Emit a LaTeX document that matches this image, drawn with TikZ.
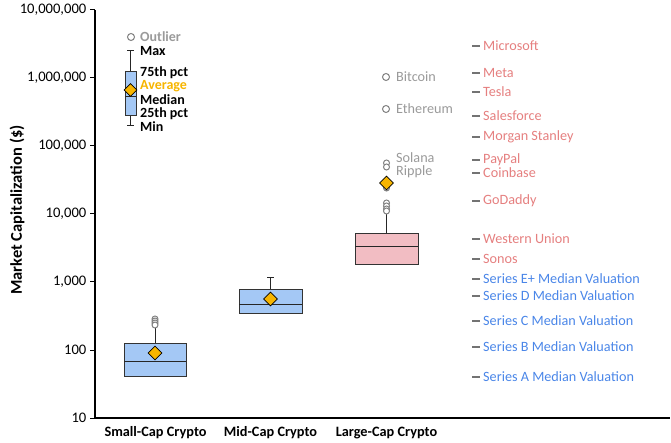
\documentclass[tikz,border=0pt]{standalone}
\usepackage{fontspec}
\setmainfont{Carlito}
\usetikzlibrary{shapes.geometric}

\definecolor{boxblue}{HTML}{A4C8F5}
\definecolor{boxpink}{HTML}{F2BDC3}
\definecolor{avggold}{HTML}{F7B500}
\definecolor{corallab}{HTML}{E57F7F}
\definecolor{bluelab}{HTML}{4A86E8}
\definecolor{greylab}{HTML}{9A9A9A}

\tikzset{
  boxplot/.style={draw=black!80, line width=1pt, inner sep=0pt},
  whisker/.style={draw=black!85, line width=1pt},
  avgmark/.style={diamond, draw=black, line width=0.8pt, fill=avggold, inner sep=0pt, minimum width=14pt, minimum height=14pt},
  outlier/.style={circle, draw=gray, line width=1pt, fill=white, inner sep=0pt, minimum size=7pt},
  reflab/.style={anchor=west, inner sep=1pt, font=\fontsize{14.2}{16}\selectfont},
  refmark/.style={draw=black!55, line width=2pt},
  leglab/.style={anchor=west, inner sep=0pt, font=\bfseries\fontsize{14}{15}\selectfont},
  catlab/.style={font=\bfseries\fontsize{14.3}{16}\selectfont}
}

\begin{document}
\begin{tikzpicture}[x=1pt, y=-1pt]
\useasboundingbox (0,0) rectangle (671,443);

% axes
\coordinate (top) at (95,10);
\coordinate (origin) at (95,418);
\coordinate (right) at (670,418);
\path[draw, line width=1.1pt] (top) -- (origin) -- (right);
\foreach \yy/\lab in {10/{10,000,000}, 78/{1,000,000}, 146/{100,000}, 214/{10,000}, 282/{1,000}, 350/{100}, 418/{10}} {
  \path[draw, line width=1pt] (90,\yy) -- (95,\yy);
  \node[anchor=east, inner sep=0pt, font=\fontsize{14.6}{16}\selectfont] (ylab\yy) at (86.5,\yy) {\lab};
}
\node[rotate=90, font=\bfseries\fontsize{16.5}{18}\selectfont] (ytitle) at (17,210) {Market Capitalization (\$)};

% category labels
\node[catlab] (xsmall) at (155.5,433) {Small-Cap Crypto};
\node[catlab] (xmid) at (270.5,433) {Mid-Cap Crypto};
\node[catlab] (xlarge) at (386.5,433) {Large-Cap Crypto};

% legend box
\node[outlier] (kout) at (131,37) {};
\coordinate (kmax) at (130.5,51);
\coordinate (kmin) at (130.5,126);
\node[boxplot, fill=boxblue, minimum width=11pt, minimum height=44pt] (kbox) at (130.5,94) {};
\path[whisker] (kbox.north) -- (kmax);
\path[whisker] (kbox.south) -- (kmin);
\path[whisker] ([xshift=-3.5pt]kmax) -- ([xshift=3.5pt]kmax);
\path[whisker] ([xshift=-3.5pt]kmin) -- ([xshift=3.5pt]kmin);
\path[whisker] (125,97) -- (136,97);
\node[avgmark, minimum width=13pt, minimum height=13pt] (kavg) at (130.5,90) {};
\node[leglab, text=greylab] (tout) at (140,37) {Outlier};
\node[leglab] (tmax) at (140,51) {Max};
\node[leglab] (t75) at (140,73) {75th pct};
\node[leglab, text=avggold] (tavg) at (140,86) {Average};
\node[leglab] (tmed) at (140,100) {Median};
\node[leglab] (t25) at (140,114) {25th pct};
\node[leglab] (tmin) at (140,127) {Min};

% small-cap
\node[boxplot, fill=boxblue, minimum width=62pt, minimum height=33pt] (sbox) at (155,359.5) {};
\coordinate (smax) at (155,326);
\path[whisker] (sbox.north) -- (smax);
\path[whisker] (124,361) -- (186,361);
\foreach \yy in {319,321,323,325} \node[outlier, minimum size=6pt] (so\yy) at (155,\yy) {};
\node[avgmark] (savg) at (155,353) {};

% mid-cap
\node[boxplot, fill=boxblue, minimum width=63pt, minimum height=24pt] (mbox) at (270.5,301) {};
\coordinate (mmax) at (270.5,278);
\path[whisker] (mbox.north) -- (mmax);
\path[whisker] ([xshift=-3.5pt]mmax) -- ([xshift=3.5pt]mmax);
\path[whisker] (239,304) -- (302,304);
\node[avgmark] (mavg) at (270.5,299) {};

% large-cap
\node[boxplot, fill=boxpink, minimum width=63pt, minimum height=31pt] (lbox) at (386.5,249.5) {};
\coordinate (lmax) at (386.5,213);
\path[whisker] (lbox.north) -- (lmax);
\path[whisker] (355,247) -- (418,247);
\foreach \yy in {203,206,209,211} \node[outlier, minimum size=6pt] (lo\yy) at (386.5,\yy) {};
\node[outlier, minimum size=6pt] (lo188) at (386.5,188) {};
\node[avgmark] (lavg) at (386.5,183) {};
\node[outlier, minimum size=6pt] (lsol) at (386.5,163) {};
\node[outlier, minimum size=6pt] (lrip) at (386.5,167) {};
\node[outlier] (lbtc) at (386,77) {};
\node[outlier] (leth) at (386,109) {};
\node[reflab, text=greylab] (tbtc) at (395,77) {Bitcoin};
\node[reflab, text=greylab] (teth) at (395,109) {Ethereum};
\node[reflab, text=greylab] (tsol) at (395,158) {Solana};
\node[reflab, text=greylab] (trip) at (395,172) {Ripple};

% reference values
\foreach \i/\yy/\name/\col in {1/46/Microsoft/corallab, 2/73/Meta/corallab, 3/92/Tesla/corallab,
  4/116/Salesforce/corallab, 5/137/Morgan Stanley/corallab, 6/160/PayPal/corallab,
  7/173/Coinbase/corallab, 8/201/GoDaddy/corallab, 9/239/Western Union/corallab,
  10/259/Sonos/corallab, 11/279/Series E+ Median Valuation/bluelab,
  12/296/Series D Median Valuation/bluelab, 13/321/Series C Median Valuation/bluelab,
  14/347/Series B Median Valuation/bluelab, 15/377/Series A Median Valuation/bluelab} {
  \node[reflab, text=\col] (ref\i) at (482,\yy) {\name};
  \path[refmark] ([xshift=-10pt]ref\i.west) -- ([xshift=-2pt]ref\i.west);
}
\end{tikzpicture}
\end{document}
